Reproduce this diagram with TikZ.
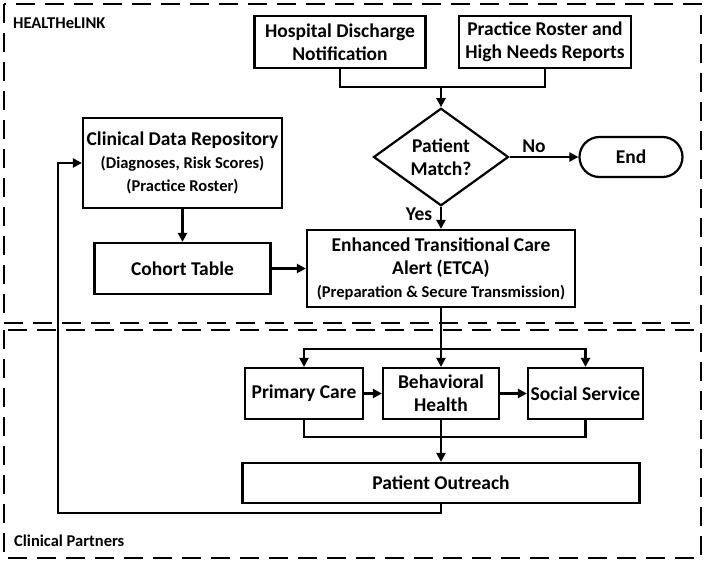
\documentclass[tikz,border=0pt]{standalone}
\usepackage{fontspec}
\setmainfont{Carlito}
\usetikzlibrary{arrows.meta,shapes.geometric}
\begin{document}
\begin{tikzpicture}[x=1pt,y=-1pt,
  box/.style={draw,line width=2.2pt,rectangle,align=center,inner sep=1pt,font=\bfseries\fontsize{19.5}{23}\selectfont},
  arr/.style={line width=2.2pt,-{Triangle[length=9pt,width=9pt]}},
  ln/.style={line width=2.2pt},
  region/.style={line width=1.8pt,dash pattern=on 19pt off 10pt},
  lbl/.style={font=\bfseries\fontsize{19.5}{23}\selectfont,inner sep=0pt},
  tag/.style={font=\bfseries\fontsize{16.5}{20}\selectfont,inner sep=0pt,anchor=west},
  sm/.style={font=\bfseries\fontsize{16.5}{21}\selectfont}]
\useasboundingbox (0,0) rectangle (705,565);
\draw[region] (4,4) rectangle (701,323);
\draw[region] (4,330) rectangle (701,558);
\node[tag] (hl) at (13,23) {HEALTHeLINK};
\node[tag] (cp) at (14,541) {Clinical Partners};

\node[box,minimum width=171pt,minimum height=52pt] (hosp) at (340,42) {Hospital Discharge\\Notification};
\node[box,minimum width=172pt,minimum height=52pt] (prac) at (545,42) {Practice Roster and\\High Needs Reports};
\node[box,diamond,inner sep=0pt,minimum width=135pt,minimum height=76pt] (dia) at (441,157) {Patient\\Match?};
\node[box,minimum width=103pt,minimum height=40pt,rounded corners=20pt] (end) at (631,157) {End};
\node[box,minimum width=199pt,minimum height=90pt] (cdr) at (182.5,163) {Clinical Data Repository\\{\fontsize{16.5}{22}\selectfont (Diagnoses, Risk Scores)}\\{\fontsize{16.5}{22}\selectfont (Practice Roster)}};
\node[box,minimum width=176pt,minimum height=51pt] (coh) at (182.5,268.5) {Cohort Table};
\node[box,minimum width=268pt,minimum height=77pt] (etca) at (441,268.5) {Enhanced Transitional Care\\Alert (ETCA)\\{\fontsize{16.5}{22}\selectfont (Preparation \& Secure Transmission)}};
\node[box,minimum width=118pt,minimum height=51pt] (pc) at (304,393.5) {Primary Care};
\node[box,minimum width=116pt,minimum height=51pt] (bh) at (441,393.5) {Behavioral\\Health};
\node[box,minimum width=115pt,minimum height=51pt] (ss) at (585.5,393.5) {Social Service};
\node[box,minimum width=397pt,minimum height=40pt] (po) at (441,483) {Patient Outreach};

\node[lbl] (no) at (534,146) {No};
\node[lbl] (yes) at (419,214) {Yes};

\coordinate (mtop) at (441,87);
\draw[ln] (hosp.south) |- (mtop) -| (prac.south);
\draw[arr] (mtop) -- (dia.north);
\draw[arr] (dia.east) -- (end.west);
\draw[arr] (dia.south) -- (etca.north);
\draw[arr] (cdr.south) -- (coh.north);
\draw[arr] (coh.east) -- (etca.west);
\coordinate (br) at (441,349);
\draw[arr] (etca.south) -- (bh.north);
\draw[arr] (br) -| (pc.north);
\draw[arr] (br) -| (ss.north);
\draw[arr] (pc.east) -- (bh.west);
\draw[arr] (bh.east) -- (ss.west);
\coordinate (mb) at (441,437);
\draw[ln] (pc.south) |- (mb) -| (ss.south);
\draw[arr] (bh.south) -- (po.north);
\coordinate (fb) at (58,513);
\draw[arr] (po.south) |- (fb) |- (cdr.west);
\end{tikzpicture}
\end{document}
